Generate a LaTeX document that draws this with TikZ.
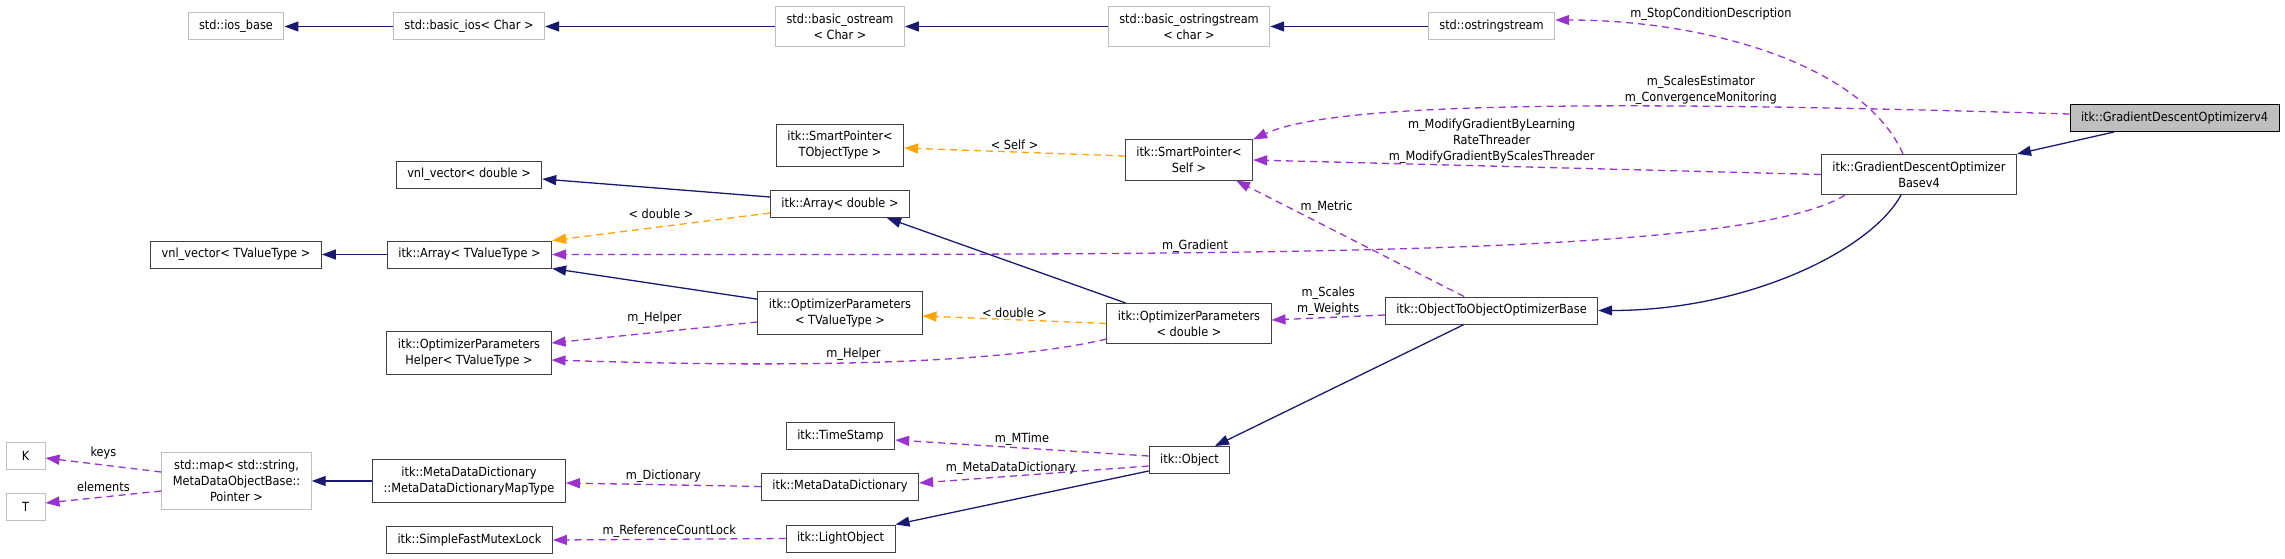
\documentclass[tikz,border=0pt]{standalone}
\usepackage{xcolor}
\usepackage{fontspec}
\usepackage{tikz}
\usetikzlibrary{arrows.meta, positioning}

\newfontfamily\doxfont{DejaVu Sans Condensed}
\newcommand{\dox}{\doxfont\fontsize{12.6}{16}\selectfont}
\definecolor{inhblue}{HTML}{191970}
\definecolor{mempurple}{HTML}{9A32CD}
\definecolor{tplorange}{HTML}{FFA500}
\definecolor{extgray}{HTML}{BFBFBF}
\definecolor{boxline}{HTML}{404040}

\begin{document}
\begin{tikzpicture}[
    x=1pt, y=-1pt,
    cls/.style={draw=boxline, line width=1pt, fill=white, font=\dox, align=center,
                inner xsep=11pt, inner ysep=7.2pt, minimum height=27pt},
    ext/.style={cls, draw=extgray},
    main/.style={cls, draw=black, fill=extgray},
    lbl/.style={font=\dox, align=center, inner sep=1.5pt},
    inherit/.style={-{Triangle[length=14pt, width=10pt]}, draw=inhblue, line width=1.3pt},
    member/.style={-{Triangle[length=14pt, width=10pt]}, draw=mempurple, line width=1.3pt,
                   dash pattern=on 7pt off 5pt},
    templ/.style={-{Triangle[length=14pt, width=10pt]}, draw=tplorange, line width=1.3pt,
                  dash pattern=on 7pt off 5pt}
]
\useasboundingbox (0,0) rectangle (2285,559);

\node[ext]  (iosb) at (236,26.5)    {std::ios\_base};
\node[ext]  (bios) at (469,26.5)    {std::basic\_ios< Char >};
\node[ext]  (bost) at (840,26.5)    {std::basic\_ostream\\< Char >};
\node[ext]  (boss) at (1189,26.5)   {std::basic\_ostringstream\\< char >};
\node[ext]  (oss)  at (1491.5,26.5) {std::ostringstream};
\node[cls]  (spT)  at (840,145.5)   {itk::SmartPointer<\\ TObjectType >};
\node[cls]  (spS)  at (1189,160)    {itk::SmartPointer<\\ Self >};
\node[cls]  (vnlD) at (469,174.5)   {vnl\_vector< double >};
\node[cls]  (arrD) at (840,204)     {itk::Array< double >};
\node[cls]  (vnlT) at (236,254.5)   {vnl\_vector< TValueType >};
\node[cls]  (arrT) at (469.5,254.5) {itk::Array< TValueType >};
\node[cls]  (opT)  at (840,313)     {itk::OptimizerParameters\\< TValueType >};
\node[cls]  (oph)  at (469,353)     {itk::OptimizerParameters\\Helper< TValueType >};
\node[cls]  (opD)  at (1189,323.5)  {itk::OptimizerParameters\\< double >};
\node[cls]  (o2o)  at (1491.5,310.5) {itk::ObjectToObjectOptimizerBase};
\node[cls]  (gdb)  at (1919,174.5)  {itk::GradientDescentOptimizer\\Basev4};
\node[main] (gd)   at (2174.5,118)  {itk::GradientDescentOptimizerv4};
\node[ext, minimum width=39pt] (kk) at (25.5,456)   {K};
\node[ext, minimum width=39pt] (tt) at (25.5,506.5) {T};
\node[ext]  (smap) at (236.5,481)   {std::map< std::string,\\ MetaDataObjectBase::\\Pointer >};
\node[cls]  (mdmt) at (469,481)     {itk::MetaDataDictionary\\::MetaDataDictionaryMapType};
\node[cls]  (sfml) at (469.5,540)   {itk::SimpleFastMutexLock};
\node[cls]  (tstm) at (840.5,436)   {itk::TimeStamp};
\node[cls]  (mdd)  at (840,486.5)   {itk::MetaDataDictionary};
\node[cls]  (lobj) at (840.5,538.5) {itk::LightObject};
\node[cls]  (obj)  at (1189.5,460)  {itk::Object};

% inheritance
\draw[inherit] (bios) -- (iosb);
\draw[inherit] (bost) -- (bios);
\draw[inherit] (boss) -- (bost);
\draw[inherit] (oss) -- (boss);
\draw[inherit] ([yshift=7pt]arrD.west) -- ([yshift=-4.5pt]vnlD.east);
\draw[inherit] (arrT) -- (vnlT);
\draw[inherit] ([yshift=-8pt]opT.north west) -- (arrT.south east);
\draw[inherit] ([xshift=19pt]opD.north west) -- ([xshift=47pt]arrD.south);
\draw[inherit] ([xshift=-18pt]gdb.south) .. controls +(-30,55) and +(150,0) .. (o2o.east);
\draw[inherit] ([xshift=-60.5pt]gd.south) -- (gdb.north east);
\draw[inherit] ([xshift=-27.5pt]o2o.south) -- ([xshift=25.5pt]obj.north);
\draw[inherit] ([yshift=3pt]obj.south west) -- (lobj.north east);
\draw[inherit] (mdmt) -- (smap);

% members
\draw[member] ([xshift=-16pt]gdb.north) .. controls +(-40,-90) and +(150,0) .. ([yshift=6.5pt]oss.east)
    node[lbl, pos=0.7, above, yshift=9pt, xshift=22pt] {m\_StopConditionDescription};
\draw[member] ([yshift=4pt]gd.west) .. controls +(-470,-14) and +(79,-37) .. (spS.north east)
    node[lbl, pos=0.3, above] {m\_ScalesEstimator\\m\_ConvergenceMonitoring};
\draw[member] (gdb.west) -- (spS.east)
    node[lbl, pos=0.58, above] {m\_ModifyGradientByLearning\\RateThreader\\m\_ModifyGradientByScalesThreader};
\draw[member] ([xshift=-27.5pt]o2o.north) -- ([xshift=47pt]spS.south)
    node[lbl, pos=0.77, right, xshift=10pt] {m\_Metric};
\draw[member] ([xshift=24pt]gdb.south west) .. controls +(-100,62) and +(700,0) .. (arrT.east)
    node[lbl, pos=0.655, above, yshift=-2pt] {m\_Gradient};
\draw[member] ([yshift=-4.5pt]o2o.west) -- ([yshift=3.5pt]opD.east)
    node[lbl, midway, above] {m\_Scales\\m\_Weights};
\draw[member] ([yshift=-9pt]opT.west) -- ([yshift=10pt]oph.east)
    node[lbl, midway, above, yshift=6pt] {m\_Helper};
\draw[member] ([yshift=5pt]opD.south west) .. controls +(-107,25) and +(249,8) .. ([yshift=-7pt]oph.east)
    node[lbl, pos=0.55, above] {m\_Helper};
\draw[member] ([yshift=4pt]obj.west) -- ([yshift=-4pt]tstm.east)
    node[lbl, midway, above] {m\_MTime};
\draw[member] ([yshift=-6pt]obj.west) -- ([yshift=3.5pt]mdd.east)
    node[lbl, pos=0.6, above] {m\_MetaDataDictionary};
\draw[member] (mdd.west) -- ([yshift=-2pt]mdmt.east)
    node[lbl, midway, above] {m\_Dictionary};
\draw[member] (lobj.west) -- (sfml.east)
    node[lbl, midway, above] {m\_ReferenceCountLock};
\draw[member] ([yshift=9pt]smap.west) -- ([yshift=-2pt]kk.east)
    node[lbl, midway, above, yshift=4pt] {keys};
\draw[member] ([yshift=-10pt]smap.west) -- ([yshift=3.5pt]tt.east)
    node[lbl, midway, above, yshift=3pt] {elements};

% template instances
\draw[templ] ([yshift=4pt]spS.west) -- ([yshift=-2.5pt]spT.east)
    node[lbl, midway, above] {< Self >};
\draw[templ] ([yshift=-9pt]arrD.west) -- (arrT.north east)
    node[lbl, midway, above, yshift=6pt] {< double >};
\draw[templ] (opD.west) -- ([yshift=-3pt]opT.east)
    node[lbl, midway, above] {< double >};
\end{tikzpicture}
\end{document}
